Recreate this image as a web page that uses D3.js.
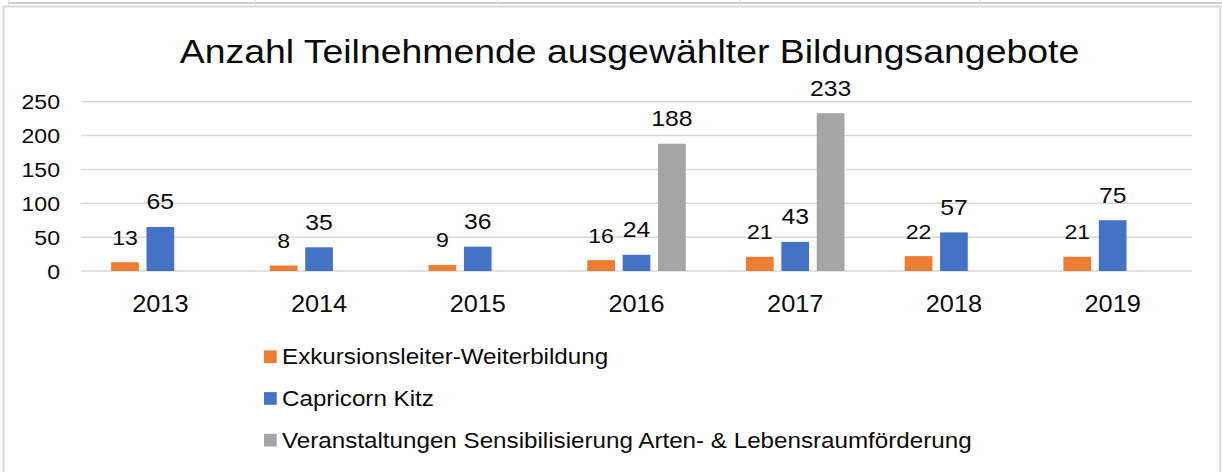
<!DOCTYPE html>
<html lang="de">
<head>
  <meta charset="UTF-8">
  <script src="https://d3js.org/d3.v7.min.js"></script>
  <title></title>
  <style>
    body { margin: 0; background: #fff; }
    text { font-family: 'Liberation Sans', Arial, sans-serif; fill: #0a0a0a; }
  </style>
</head>
<body>
  <script>
    // data
    var years = ['2013', '2014', '2015', '2016', '2017', '2018', '2019'];
    var seriesNames = ['Exkursionsleiter-Weiterbildung', 'Capricorn Kitz',
      'Veranstaltungen Sensibilisierung Arten- & Lebensraumförderung'];
    var exkursion = [13, 8, 9, 16, 21, 22, 21];
    var capricorn = [65, 35, 36, 24, 43, 57, 75];
    var veranstaltungen = [null, null, null, 188, 233, null, null];
    var yTicks = [0, 50, 100, 150, 200, 250];
    var colors = ['#ED7D31', '#4472C4', '#A5A5A5'];
    var title = 'Anzahl Teilnehmende ausgewählter Bildungsangebote';

    var W = 1222, H = 472;
    var SX = 1.1; // text in the picture is slightly stretched sideways

    var svg = d3.select('body').append('svg')
      .attr('width', W).attr('height', H);

    svg.append('rect').attr('width', W).attr('height', H).attr('fill', '#fff');

    // spreadsheet cell lines above the chart
    svg.append('line').attr('x1', 8).attr('x2', W).attr('y1', 3).attr('y2', 3)
      .attr('stroke', '#cfcfcf').attr('stroke-width', 2);
    [8, 255, 497, 739, 980].forEach(function(x) {
      svg.append('line').attr('x1', x + 0.5).attr('x2', x + 0.5).attr('y1', 0).attr('y2', 4)
        .attr('stroke', '#d6d6d6').attr('stroke-width', 1);
    });

    // chart frame
    svg.append('path')
      .attr('d', 'M3.5,' + H + 'V6.5H1220.5V' + H)
      .attr('fill', 'none').attr('stroke', '#d9d9d9').attr('stroke-width', 2);

    function label(g, x, y, str, size, anchor) {
      return g.append('text')
        .attr('transform', 'translate(' + x + ',' + y + ') scale(' + SX + ',1)')
        .attr('text-anchor', anchor || 'middle')
        .style('font-size', size + 'px')
        .text(str);
    }

    label(svg, 629.5, 62.5, title, 34);

    var x = d3.scaleBand().domain(years).range([81, 1192]);
    var y = d3.scaleLinear().domain([0, 250]).range([271, 101.7]);
    var xs = d3.scaleBand().domain([0, 1, 2]).range([-49.25, 49.25]).paddingInner(0.217);

    // gridlines + y labels
    var grid = svg.append('g');
    yTicks.forEach(function(t) {
      grid.append('line')
        .attr('x1', 81).attr('x2', 1192)
        .attr('y1', y(t)).attr('y2', y(t))
        .attr('stroke', '#d9d9d9').attr('stroke-width', 1.5);
      label(grid, 60, y(t) + 7.5, String(t), 21, 'end');
    });

    // x labels
    years.forEach(function(yr) {
      label(svg, x(yr) + x.bandwidth() / 2, 311.5, yr, 23);
    });

    var series = [exkursion, capricorn, veranstaltungen];
    var bars = svg.append('g');
    series.forEach(function(vals, si) {
      var rows = years.map(function(yr, i) { return {year: yr, v: vals[i]}; })
        .filter(function(d) { return d.v != null; });
      bars.append('g').selectAll('rect').data(rows).enter().append('rect')
        .attr('x', function(d) { return x(d.year) + x.bandwidth() / 2 + xs(si); })
        .attr('width', xs.bandwidth())
        .attr('y', function(d) { return y(d.v); })
        .attr('height', function(d) { return y(0) - y(d.v); })
        .attr('fill', colors[si]);
      rows.forEach(function(d) {
        label(bars, x(d.year) + x.bandwidth() / 2 + xs(si) + xs.bandwidth() / 2,
          y(d.v) - 17.5, String(d.v), si === 0 ? 21 : 22.5);
      });
    });

    // legend
    var lg = svg.append('g');
    seriesNames.forEach(function(n, i) {
      var cy = 356.7 + i * 41.7;
      lg.append('rect').attr('x', 264).attr('y', cy - 6.3)
        .attr('width', 12.7).attr('height', 12.7).attr('fill', colors[i]);
      label(lg, 282, cy + 7.5, n, 22, 'start');
    });
  </script>
</body>
</html>
